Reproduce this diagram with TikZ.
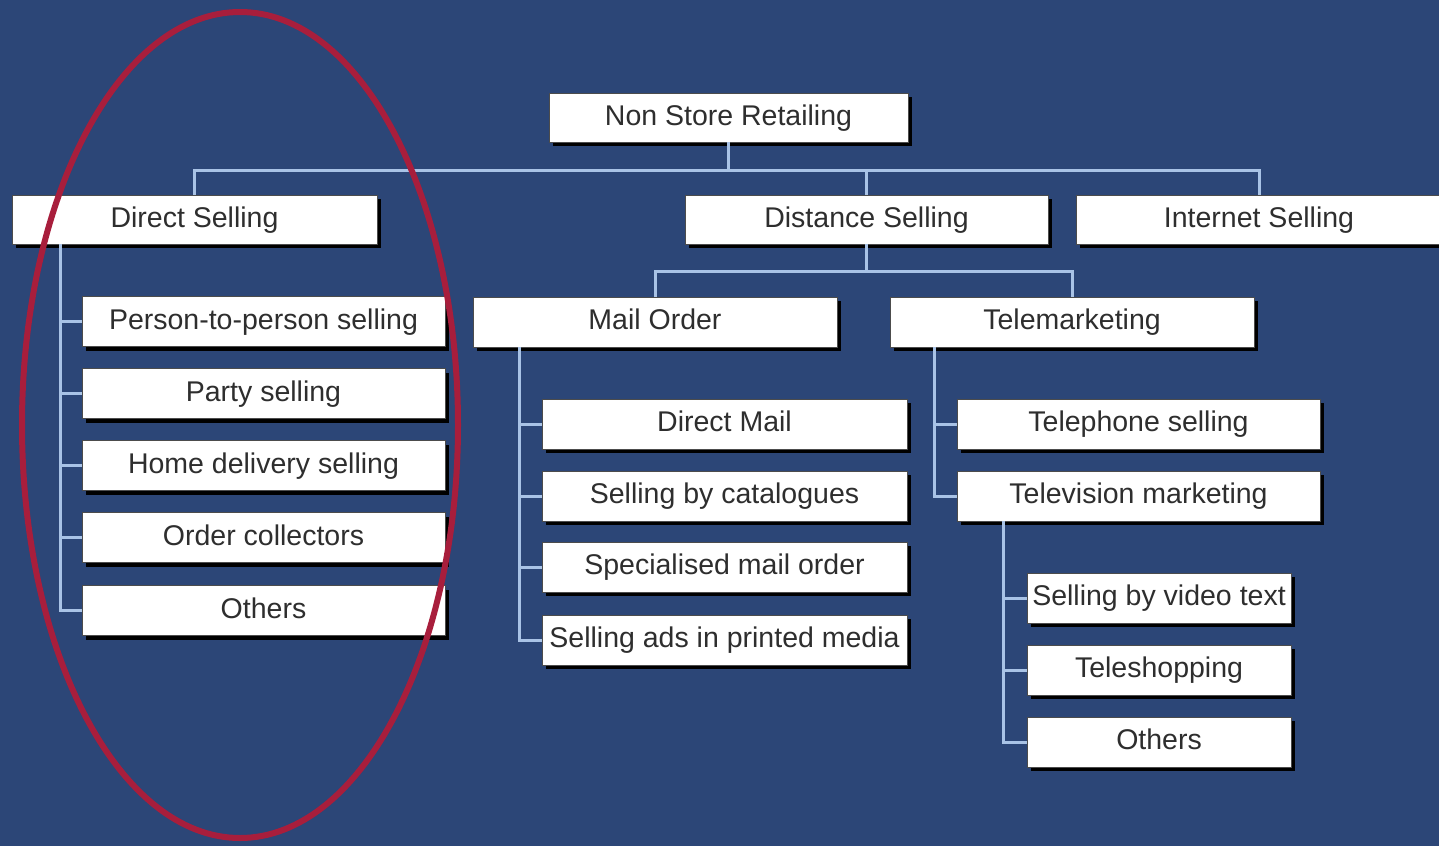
\documentclass[tikz,border=0pt]{standalone}
\usepackage{fontspec}
\setmainfont{Liberation Sans}
\usetikzlibrary{shadows}
\definecolor{bgblue}{HTML}{2C4677}
\definecolor{connblue}{HTML}{A9C3E6}
\definecolor{txtgray}{HTML}{2E2E2E}
\definecolor{ringred}{HTML}{A81E3C}
\tikzset{
  box/.style={draw=black!70, line width=0.8pt, fill=white, inner sep=0pt,
    minimum height=49pt, text=txtgray, text height=20pt, text depth=5pt,
    font=\fontsize{28.5}{30}\selectfont,
    drop shadow={shadow xshift=4pt, shadow yshift=-4pt, fill=black, opacity=1}},
  conn/.style={draw=connblue, line width=3pt},
  ring/.style={draw=ringred, line width=6pt}
}
\begin{document}
\begin{tikzpicture}[x=1pt,y=-1pt]
\clip (0,0) rectangle (1439,846);
\useasboundingbox (0,0) rectangle (1439,846);
\fill[bgblue] (0,0) rectangle (1439,846);

% level 0 and 1
\node[box, minimum width=359pt] (nsr) at (728.5,117.5) {Non Store Retailing};
\node[box, minimum width=365pt] (ds) at (194.5,219.5) {Direct Selling};
\node[box, minimum width=363pt] (dist) at (866.5,219.5) {Distance Selling};
\node[box, minimum width=366pt] (is) at (1259,219.5) {Internet Selling};

% level 2 under distance selling
\node[box, minimum width=364pt, minimum height=50pt] (mo) at (655,322) {Mail Order};
\node[box, minimum width=364pt, minimum height=50pt] (tm) at (1072,322) {Telemarketing};

% direct selling children
\node[box, minimum width=363pt, minimum height=50pt] (ds1) at (263.5,321.5) {Person-to-person selling};
\node[box, minimum width=363pt, minimum height=50pt] (ds2) at (263.5,393.5) {Party selling};
\node[box, minimum width=363pt, minimum height=50pt] (ds3) at (263.5,465.5) {Home delivery selling};
\node[box, minimum width=363pt, minimum height=50pt] (ds4) at (263.5,537.5) {Order collectors};
\node[box, minimum width=363pt, minimum height=50pt] (ds5) at (263.5,610.5) {Others};

% mail order children
\node[box, minimum width=365pt, minimum height=50pt] (mo1) at (724.5,424) {Direct Mail};
\node[box, minimum width=365pt, minimum height=50pt] (mo2) at (724.5,496) {Selling by catalogues};
\node[box, minimum width=365pt, minimum height=50pt] (mo3) at (724.5,567) {Specialised mail order};
\node[box, minimum width=365pt, minimum height=50pt] (mo4) at (724.5,640) {Selling ads in printed media};

% telemarketing children
\node[box, minimum width=363pt, minimum height=50pt] (tm1) at (1138.5,424) {Telephone selling};
\node[box, minimum width=363pt, minimum height=50pt] (tm2) at (1138.5,496) {Television marketing};

% television marketing children
\node[box, minimum width=264pt, minimum height=50pt] (tv1) at (1159,598) {Selling by video text};
\node[box, minimum width=264pt, minimum height=50pt] (tv2) at (1159,670) {Teleshopping};
\node[box, minimum width=264pt, minimum height=50pt] (tv3) at (1159,742) {Others};

% connectors
\coordinate (b1) at (728.5,170);
\draw[conn] (nsr.south) -- (b1);
\draw[conn] (b1) -| (ds.north);
\draw[conn] (b1) -| (is.north);
\draw[conn] (dist.north) -- (dist.north |- b1);

\coordinate (b2) at (866.5,271);
\draw[conn] (dist.south) -- (b2);
\draw[conn] (b2) -| (mo.north);
\draw[conn] (b2) -| (tm.north);

\coordinate (dsT) at (60,244);
\draw[conn] (dsT) |- (ds5.west);
\foreach \n in {ds1,ds2,ds3,ds4} \draw[conn] (dsT |- \n.west) -- (\n.west);

\coordinate (moT) at (519,347);
\draw[conn] (moT) |- (mo4.west);
\foreach \n in {mo1,mo2,mo3} \draw[conn] (moT |- \n.west) -- (\n.west);

\coordinate (tmT) at (934,347);
\draw[conn] (tmT) |- (tm2.west);
\draw[conn] (tmT |- tm1.west) -- (tm1.west);

\coordinate (tvT) at (1003,521);
\draw[conn] (tvT) |- (tv3.west);
\foreach \n in {tv1,tv2} \draw[conn] (tvT |- \n.west) -- (\n.west);

% red highlight ellipse
\draw[ring] (240,425) ellipse [x radius=218pt, y radius=413pt];
\end{tikzpicture}
\end{document}
